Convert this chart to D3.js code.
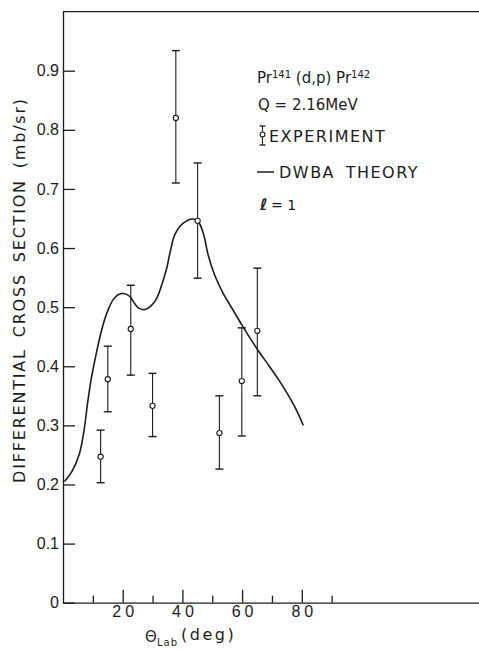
<!DOCTYPE html>
<html>
<head>
<meta charset="utf-8">
<script src="https://cdn.jsdelivr.net/npm/d3@7"></script>
<style>
  body { margin: 0; background: #fff; }
  svg { display: block; font-family: "DejaVu Sans", sans-serif; }
  .axis path, .axis line { stroke: #1c1c1c; stroke-width: 1.3; }
  .axis text { font-size: 16px; fill: #1c1c1c; }
</style>
</head>
<body>
<svg id="chart" width="479" height="651"></svg>
<script>
// Axis ticks
const xMajorTicks = [20, 40, 60, 80];
const xMinorTicks = [10, 30, 50, 70, 90];
const yTicks = [0, 0.1, 0.2, 0.3, 0.4, 0.5, 0.6, 0.7, 0.8, 0.9];

// DWBA theory curve (angle in deg, cross section in mb/sr)
const theoryAngle = [0.5, 3, 5.5, 7, 8.3, 9.5, 11, 12.5, 14, 15.5, 17, 18.5, 20.2, 22.4, 24, 25.5, 27.5, 29.5,
  31.4, 32.5, 34.7, 35.8, 37.5, 40.3, 43.7, 45.5, 47.0, 48.7, 50.9, 53.7, 56.5, 59.9, 63, 66, 69, 72, 75, 78, 80.5];
const theoryValue = [0.205, 0.222, 0.252, 0.29, 0.34, 0.38, 0.418, 0.452, 0.48, 0.5, 0.514, 0.521, 0.523, 0.518, 0.506, 0.498, 0.496, 0.502,
  0.515, 0.529, 0.565, 0.591, 0.623, 0.642, 0.649, 0.643, 0.625, 0.587, 0.553, 0.523, 0.499, 0.470, 0.445, 0.422, 0.401, 0.379, 0.355, 0.328, 0.300];

// Experimental points with error bars
const expAngle = [12.6, 15.0, 22.7, 30.0, 37.8, 45.1, 52.4, 59.9, 65.1];
const expValue = [0.247, 0.378, 0.463, 0.333, 0.820, 0.646, 0.287, 0.375, 0.460];
const expHigh  = [0.292, 0.434, 0.537, 0.388, 0.934, 0.744, 0.350, 0.465, 0.566];
const expLow   = [0.203, 0.323, 0.385, 0.281, 0.710, 0.549, 0.226, 0.282, 0.350];

const ink = '#1c1c1c';
const svg = d3.select('#chart');

const xScale = d3.scaleLinear().domain([0, 140]).range([63, 480.9]);
const yScale = d3.scaleLinear().domain([0, 1]).range([602.7, 11.6]);

// frame top line
svg.append('line')
    .attr('x1', xScale(0)).attr('x2', xScale(140))
    .attr('y1', yScale(1)).attr('y2', yScale(1))
    .attr('stroke', ink).attr('stroke-width', 1.2);

// x axis (major ticks point up, inside)
svg.append('g')
    .attr('class', 'axis')
    .attr('transform', `translate(0, ${yScale(0)})`)
    .call(d3.axisBottom(xScale).tickValues(xMajorTicks).tickSize(-13).tickSizeOuter(0).tickPadding(3).tickFormat(d3.format('d')))
    .call(g => g.selectAll('text').style('letter-spacing', '4px').attr('dx', 2));

// minor x ticks
svg.append('g')
    .attr('class', 'axis')
    .attr('transform', `translate(0, ${yScale(0)})`)
    .call(d3.axisBottom(xScale).tickValues(xMinorTicks).tickSize(-7).tickFormat(''))
    .call(g => g.select('.domain').remove());

// y axis
svg.append('g')
    .attr('class', 'axis')
    .attr('transform', `translate(${xScale(0)}, 0)`)
    .call(d3.axisLeft(yScale).tickValues(yTicks).tickSize(-12).tickSizeOuter(0).tickPadding(4)
        .tickFormat(d => d === 0 ? '0' : d3.format('.1f')(d)));

// y label
svg.append('text')
    .attr('transform', 'translate(25, 290) rotate(-90)')
    .attr('text-anchor', 'middle')
    .style('font-size', '16px')
    .style('letter-spacing', '1.8px')
    .style('word-spacing', '4px')
    .attr('fill', ink)
    .text('DIFFERENTIAL CROSS SECTION (mb/sr)');

// x label
const xl = svg.append('text').attr('fill', ink);
xl.append('tspan').attr('x', 145).attr('y', 642).style('font-size', '15px').text('Θ');
xl.append('tspan').attr('x', 157).attr('y', 646).style('font-size', '10px').style('letter-spacing', '1px').text('Lab');
xl.append('tspan').attr('x', 181).attr('y', 640).style('font-size', '16px').style('letter-spacing', '2.5px').text('(deg)');

// theory curve
const line = d3.line()
    .x(d => xScale(d[0]))
    .y(d => yScale(d[1]))
    .curve(d3.curveCatmullRom.alpha(0.5));

svg.append('path')
    .datum(d3.zip(theoryAngle, theoryValue))
    .attr('d', line)
    .attr('fill', 'none')
    .attr('stroke', ink)
    .attr('stroke-width', 1.6);

// experimental points
const r = 2.6;
const points = expAngle.map((a, i) => ({ a, v: expValue[i], hi: expHigh[i], lo: expLow[i] }));
const pts = svg.append('g').attr('stroke', ink).attr('stroke-width', 1.1);

pts.selectAll('line.up').data(points).join('line')
    .attr('x1', d => xScale(d.a)).attr('x2', d => xScale(d.a))
    .attr('y1', d => yScale(d.hi)).attr('y2', d => yScale(d.v) - r);
pts.selectAll('line.down').data(points).join('line')
    .attr('x1', d => xScale(d.a)).attr('x2', d => xScale(d.a))
    .attr('y1', d => yScale(d.v) + r).attr('y2', d => yScale(d.lo));
pts.selectAll('line.cap-hi').data(points).join('line')
    .attr('x1', d => xScale(d.a) - 4).attr('x2', d => xScale(d.a) + 4)
    .attr('y1', d => yScale(d.hi)).attr('y2', d => yScale(d.hi)).attr('stroke-width', 1.4);
pts.selectAll('line.cap-lo').data(points).join('line')
    .attr('x1', d => xScale(d.a) - 4).attr('x2', d => xScale(d.a) + 4)
    .attr('y1', d => yScale(d.lo)).attr('y2', d => yScale(d.lo)).attr('stroke-width', 1.4);
pts.selectAll('circle').data(points).join('circle')
    .attr('cx', d => xScale(d.a)).attr('cy', d => yScale(d.v))
    .attr('r', r).attr('fill', '#fff');

// legend
const lg = svg.append('g').attr('fill', ink);
const t1 = lg.append('text').attr('x', 257).attr('y', 83).style('font-size', '15px');
t1.append('tspan').text('Pr');
t1.append('tspan').attr('dy', -5).style('font-size', '10px').text('141');
t1.append('tspan').attr('dy', 5).text(' (d,p) Pr');
t1.append('tspan').attr('dy', -5).style('font-size', '10px').text('142');

lg.append('text').attr('x', 258).attr('y', 110).style('font-size', '15px').text('Q = 2.16MeV');

// error bar symbol
const sym = lg.append('g').attr('stroke', ink).attr('stroke-width', 1.1);
sym.append('line').attr('x1', 262.5).attr('x2', 262.5).attr('y1', 126).attr('y2', 131.8);
sym.append('line').attr('x1', 262.5).attr('x2', 262.5).attr('y1', 137).attr('y2', 145);
sym.append('line').attr('x1', 259.5).attr('x2', 265.5).attr('y1', 126).attr('y2', 126).attr('stroke-width', 1.3);
sym.append('line').attr('x1', 259.5).attr('x2', 265.5).attr('y1', 145).attr('y2', 145).attr('stroke-width', 1.3);
sym.append('circle').attr('cx', 262.5).attr('cy', 134.4).attr('r', 2.4).attr('fill', '#fff');
lg.append('text').attr('x', 269).attr('y', 142).style('font-size', '16px').style('letter-spacing', '1.5px').text('EXPERIMENT');

lg.append('line').attr('x1', 257).attr('x2', 274).attr('y1', 172).attr('y2', 172).attr('stroke', ink).attr('stroke-width', 1.5);
lg.append('text').attr('x', 279).attr('y', 178).style('font-size', '16px').style('letter-spacing', '1.5px').style('word-spacing', '4px').text('DWBA THEORY');

lg.append('text').attr('x', 260).attr('y', 210).style('font-size', '16px').style('font-weight', 'bold').text('ℓ');
lg.append('text').attr('x', 271).attr('y', 210).style('font-size', '14px').text('= 1');
</script>
</body>
</html>
